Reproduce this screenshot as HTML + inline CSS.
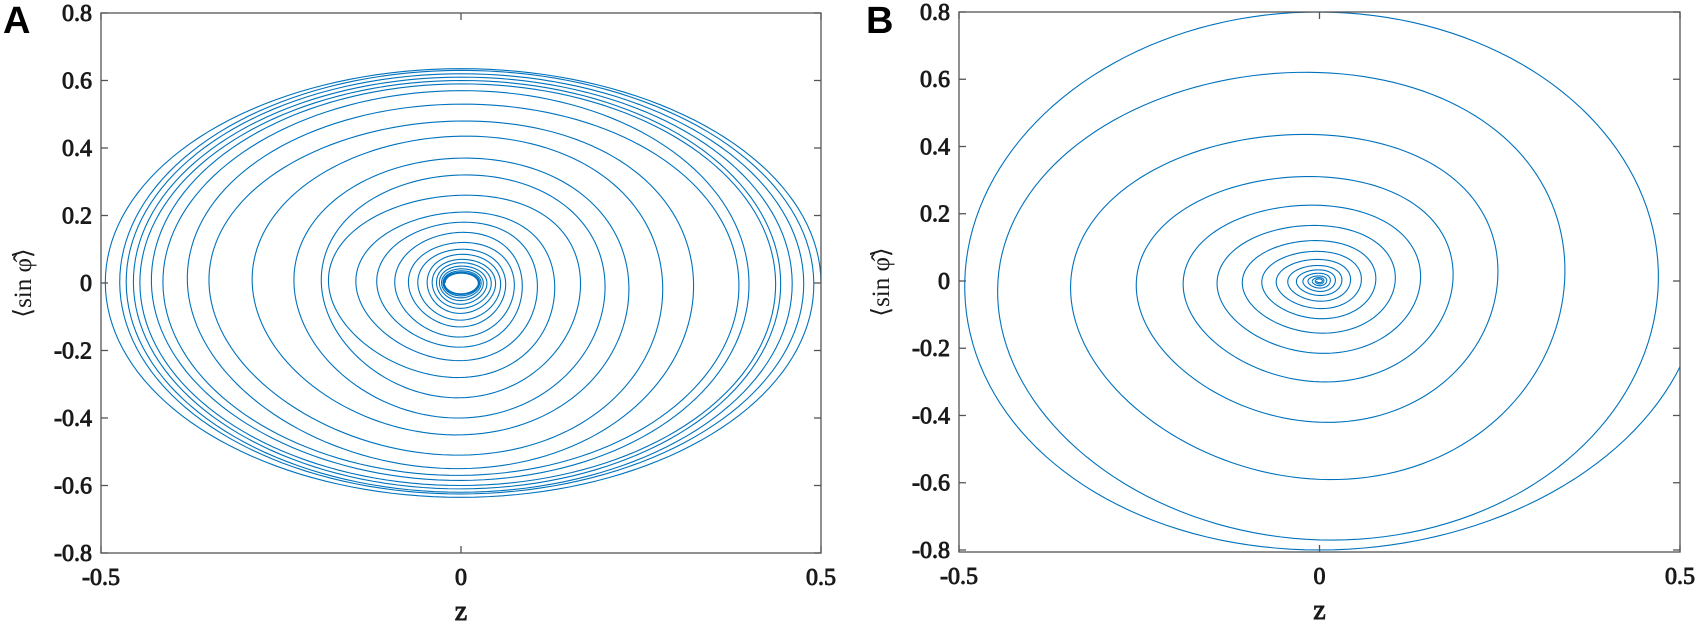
<!DOCTYPE html>
<html><head><meta charset="utf-8"><style>
body{margin:0;background:#fff}
svg{display:block}
</style></head><body>
<svg id="fig" width="1699" height="625" viewBox="0 0 1699 625" xmlns="http://www.w3.org/2000/svg"></svg>
<script>
// Panel A spiral keypoints (per turn): right, top, left, bottom crossings
const aRight=[0.50,0.49,0.476,0.46,0.444,0.437,0.40,0.386,0.323,0.28,0.233,0.20,0.166,0.13,0.106,0.085,0.074,0.062,0.055,0.048,0.042,0.036,0.031,0.028,0.026,0.025,0.024];
const aTop=[0.635,0.63,0.62,0.61,0.60,0.59,0.57,0.53,0.48,0.435,0.37,0.32,0.26,0.21,0.18,0.15,0.12,0.10,0.085,0.07,0.06,0.05,0.042,0.036,0.032,0.03,0.029];
const aLeft=[-0.494,-0.474,-0.465,-0.455,-0.446,-0.43,-0.414,-0.38,-0.35,-0.29,-0.232,-0.194,-0.184,-0.146,-0.117,-0.092,-0.073,-0.06,-0.047,-0.04,-0.034,-0.03,-0.027,-0.025,-0.024,-0.023,-0.022];
const aBottom=[-0.635,-0.625,-0.62,-0.61,-0.60,-0.585,-0.57,-0.55,-0.51,-0.45,-0.40,-0.34,-0.28,-0.23,-0.19,-0.16,-0.13,-0.11,-0.09,-0.075,-0.063,-0.052,-0.044,-0.038,-0.034,-0.032,-0.03];
// Panel B spiral keypoints (clockwise: right, bottom, left, top)
const bRight=[0.53,0.47,0.34,0.247,0.185,0.14,0.105,0.078,0.058,0.043,0.031,0.022,0.015,0.010,0.006,0.004];
const bBottom=[-0.80,-0.77,-0.59,-0.42,-0.30,-0.215,-0.155,-0.112,-0.082,-0.06,-0.043,-0.031,-0.021,-0.014,-0.009,-0.005];
const bLeft=[-0.492,-0.446,-0.345,-0.254,-0.189,-0.142,-0.107,-0.08,-0.06,-0.044,-0.032,-0.023,-0.016,-0.010,-0.006,-0.004];
const bTop=[0.80,0.62,0.435,0.31,0.225,0.165,0.12,0.088,0.064,0.046,0.033,0.023,0.015,0.010,0.006,0.004];
const xTicks=[-0.5,0,0.5];
const yTicks=[0.8,0.6,0.4,0.2,0,-0.2,-0.4,-0.6,-0.8];
const yTickLabels=["0.8","0.6","0.4","0.2","0","-0.2","-0.4","-0.6","-0.8"];
const xTickLabels=["-0.5","0","0.5"];

const NS="http://www.w3.org/2000/svg";
const svg=document.getElementById('fig');
const BOLD='font-family:"Liberation Serif","Times New Roman",serif;font-weight:normal;fill:#1a1a1a;stroke:#1a1a1a;stroke-width:0.9;';
function mk(tag,attrs,parent){const e=document.createElementNS(NS,tag);for(const k in attrs)e.setAttribute(k,attrs[k]);(parent||svg).appendChild(e);return e;}
function cr(v,t){
  const n=v.length;
  if(t<=0) return v[0];
  if(t>=n-1) return v[n-1];
  const i=Math.floor(t),f=t-i;
  const p0=v[Math.max(i-1,0)],p1=v[i],p2=v[Math.min(i+1,n-1)],p3=v[Math.min(i+2,n-1)];
  return 0.5*((2*p1)+(-p0+p2)*f+(2*p0-5*p1+4*p2-p3)*f*f+(-p0+3*p1-3*p2+p3)*f*f*f);
}
function spiral(hor,ver,cw){
  const pts=[];const n=hor.length;const steps=80;
  for(let k=0;k<=(n-1)*steps;k++){
    const t=k/steps; const th=t*Math.PI;
    const rx=cr(hor,t);
    const ry=cr(ver,t-0.5);
    pts.push([rx*Math.cos(th),(cw?-1:1)*ry*Math.sin(th)]);
  }
  return pts;
}
function interleave(a,b){const r=[];for(let i=0;i<a.length;i++){r.push(Math.abs(a[i]));r.push(Math.abs(b[i]));}return r;}

function panel(o){
  const g=mk('g',{});
  
  
  const sx=v=>o.x0+(v+0.5)*(o.x1-o.x0);
  const sy=v=>o.y0+(o.ymax-v)/(o.ymax-o.ymin)*(o.y1-o.y0);
  const clipId='clip'+o.letter;
  const cp=mk('clipPath',{id:clipId},g);
  mk('rect',{x:o.x0,y:o.y0,width:o.x1-o.x0,height:o.y1-o.y0},cp);
  const d=o.pts.map((p,i)=>(i?'L':'M')+sx(p[0]).toFixed(2)+' '+sy(p[1]).toFixed(2)).join('');
  const path=mk('path',{d:d,fill:'none',stroke:'#0072bd','stroke-width':1.1,'clip-path':'url(#'+clipId+')'},g);
  
  
  const box=mk('rect',{x:o.x0,y:o.y0,width:o.x1-o.x0,height:o.y1-o.y0,fill:'none',stroke:'#555','stroke-width':1.3},g);
  
  
  yTicks.forEach((v,i)=>{
    const y=sy(v);
    mk('line',{x1:o.x0,y1:y,x2:o.x0+7,y2:y,stroke:'#555','stroke-width':1.3},g);
    mk('line',{x1:o.x1,y1:y,x2:o.x1-7,y2:y,stroke:'#555','stroke-width':1.3},g);
    const t=mk('text',{x:o.x0-9,y:y+8,'text-anchor':'end',style:BOLD+'font-size:24px'},g);
    t.textContent=yTickLabels[i];
    
    
  });
  xTicks.forEach((v,i)=>{
    const x=sx(v);
    mk('line',{x1:x,y1:o.y1,x2:x,y2:o.y1-7,stroke:'#555','stroke-width':1.3},g);
    mk('line',{x1:x,y1:o.y0,x2:x,y2:o.y0+7,stroke:'#555','stroke-width':1.3},g);
    const t=mk('text',{x:x,y:o.y1+32,'text-anchor':'middle',style:BOLD+'font-size:24px'},g);
    t.textContent=xTickLabels[i];
    
    
  });
  const xl=mk('text',{x:(o.x0+o.x1)/2,y:o.y1+67,'text-anchor':'middle',style:BOLD+'font-size:28px'},g);
  xl.textContent='z';
  
  
  const cy=(o.y0+o.y1)/2;
  const yl=mk('text',{x:0,y:0,'text-anchor':'middle',style:'font-family:"Liberation Serif",serif;font-size:25px;fill:#1a1a1a',transform:'translate('+(o.x0-70)+','+cy+') rotate(-90)'},g);
  yl.textContent='⟨sin φ̂⟩';
  
  
  const lt=mk('text',{x:o.lx,y:33,style:'font-family:"Liberation Sans",sans-serif;font-weight:bold;font-size:38px;fill:#000'},g);
  lt.textContent=o.letter;
  
  
}

panel({name:'panel-a',letter:'A',lx:3,x0:101,x1:821,y0:13,y1:553,ymax:0.8,ymin:-0.8,
  pts:spiral(interleave(aRight,aLeft),interleave(aTop,aBottom),false)});
panel({name:'panel-b',letter:'B',lx:866,x0:959,x1:1680,y0:12,y1:552,ymax:0.8,ymin:-0.806,
  pts:spiral(interleave(bRight,bLeft),interleave(bBottom,bTop),true)});
</script>
</body></html>
